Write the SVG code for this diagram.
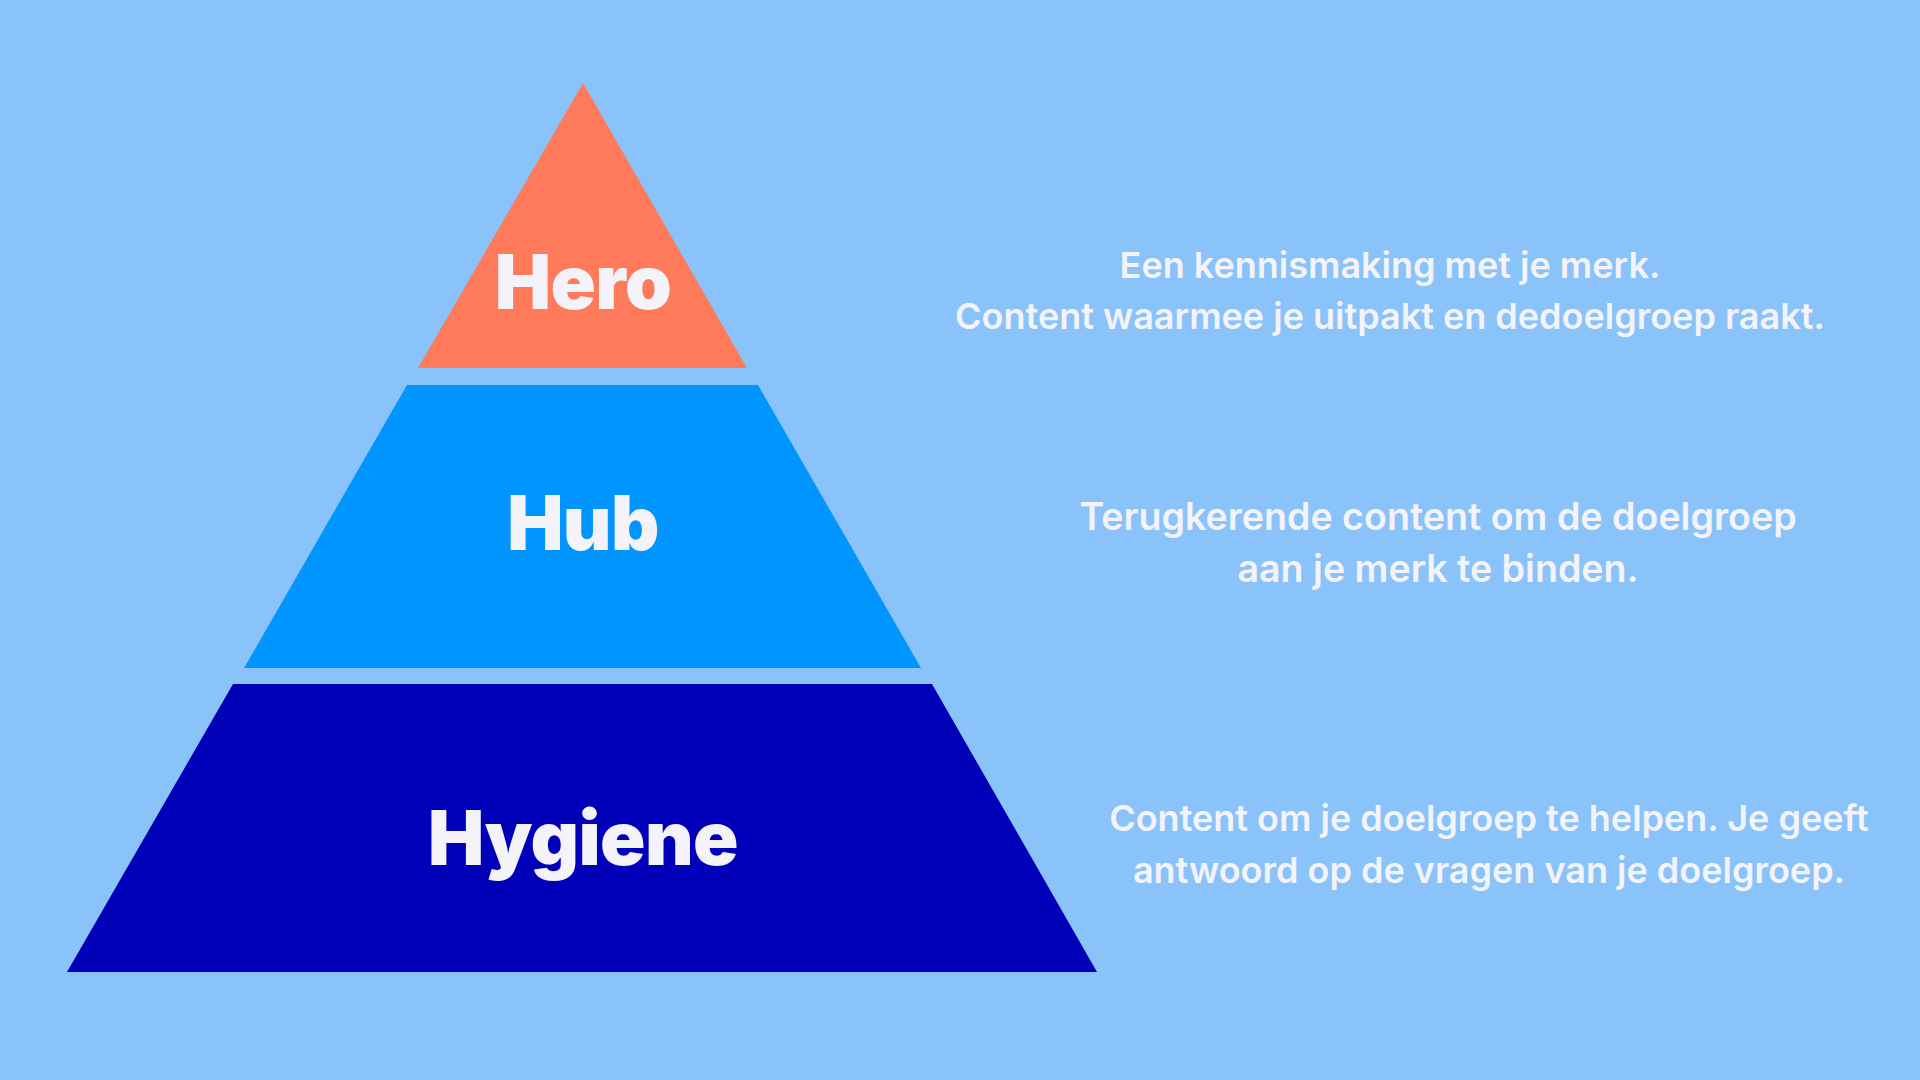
<svg xmlns="http://www.w3.org/2000/svg" width="1920" height="1080" viewBox="0 0 1920 1080">
<style>
.lbl{font-family:Inter,"Liberation Sans",sans-serif;font-weight:900;font-size:75px;fill:#F4F3F9;text-anchor:middle;letter-spacing:-0.6px}
.desc{font-family:Inter,"Liberation Sans",sans-serif;font-weight:600;font-size:36px;fill:#F4F3F9;text-anchor:middle}
.desc2{font-size:37.6px}
</style>
<rect width="1920" height="1080" fill="#8AC3FA"/>
<g id="hero">
<polygon points="583,83 747,368 418,368" fill="#FF7A5A"/>
<text class="lbl" x="583" y="309">Hero</text>
</g>
<g id="hub">
<polygon points="407,385 758,385 921,668 244,668" fill="#0095FF"/>
<text class="lbl" x="583" y="550">Hub</text>
</g>
<g id="hygiene">
<polygon points="233,684 932,684 1097,972 67,972" fill="#0000B9"/>
<text class="lbl" x="583" y="865">Hygiene</text>
</g>
<g id="desc-hero">
<text class="desc" x="1390" y="278">Een kennismaking met je merk.</text>
<text class="desc" x="1390" y="329">Content waarmee je uitpakt en dedoelgroep raakt.</text>
</g>
<g id="desc-hub">
<text class="desc desc2" x="1438" y="530">Terugkerende content om de doelgroep</text>
<text class="desc desc2" x="1438" y="582">aan je merk te binden.</text>
</g>
<g id="desc-hygiene">
<text class="desc" x="1489" y="831">Content om je doelgroep te helpen. Je geeft</text>
<text class="desc" x="1489" y="883">antwoord op de vragen van je doelgroep.</text>
</g>
<g id="connectors"/>
</svg>
